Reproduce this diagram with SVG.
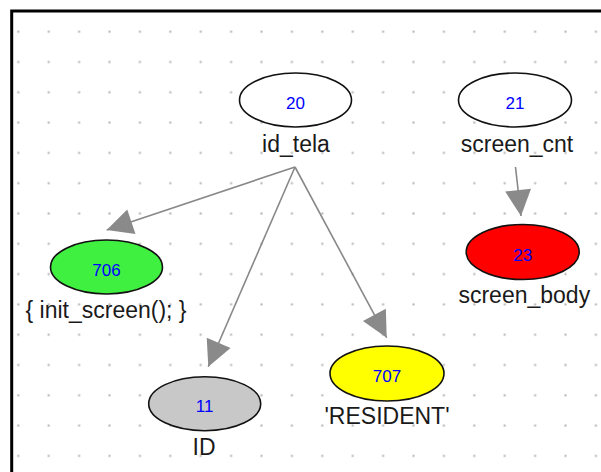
<svg xmlns="http://www.w3.org/2000/svg" width="601" height="472" viewBox="0 0 601 472">
<defs>
<pattern id="grid" patternUnits="userSpaceOnUse" x="3.1" y="16.55" width="30.4" height="30.3">
<rect x="14.2" y="14.15" width="2" height="2" fill="#b0b0b0"/>
</pattern>
<marker id="arr" markerUnits="userSpaceOnUse" markerWidth="30" markerHeight="30" viewBox="-28 -15 30 30" refX="0" refY="0" orient="auto">
<path d="M0,0 L-26,-13 L-26,13 Z" fill="#8a8a8a"/>
</marker>
</defs>
<style>
.node{stroke:#111;stroke-width:1.6}
.num{font-family:"Liberation Sans",Arial,sans-serif;font-size:17px;fill:#0000ff;text-anchor:middle}
.lbl{font-family:"Liberation Sans",Arial,sans-serif;font-size:23px;fill:#1a1a1a;text-anchor:middle}
.edge{stroke:#888;stroke-width:1.6;fill:none;marker-end:url(#arr)}
</style>
<rect width="601" height="472" fill="#fff"/>
<rect x="13" y="13" width="588" height="459" fill="url(#grid)"/>
<path d="M11.7,472 V11 H601" fill="none" stroke="#000" stroke-width="3"/>
<g id="connectors">
<line class="edge" x1="295" y1="167" x2="106.7" y2="230"/>
<line class="edge" x1="295" y1="167" x2="208.3" y2="366.7"/>
<line class="edge" x1="295" y1="167" x2="386.7" y2="337.7"/>
<line class="edge" x1="515.5" y1="167" x2="521" y2="216"/>
</g>
<g id="n20">
<ellipse class="node" cx="295.5" cy="100" rx="56" ry="27" fill="#fff"/>
<text class="num" x="295.5" y="108.5">20</text>
<text class="lbl" x="296" y="152">id_tela</text>
</g>
<g id="n21">
<ellipse class="node" cx="515" cy="100" rx="56.5" ry="27" fill="#fff"/>
<text class="num" x="515" y="108.5">21</text>
<text class="lbl" x="517" y="152">screen_cnt</text>
</g>
<g id="n706">
<ellipse class="node" cx="106.5" cy="267" rx="56" ry="27" fill="#40f040"/>
<text class="num" x="106.5" y="275.5">706</text>
<text class="lbl" x="106" y="318">{ init_screen(); }</text>
</g>
<g id="n23">
<ellipse class="node" cx="522.7" cy="252" rx="56.5" ry="27.5" fill="#ff0000"/>
<text class="num" x="522.7" y="260.5">23</text>
<text class="lbl" x="524.3" y="303">screen_body</text>
</g>
<g id="n11">
<ellipse class="node" cx="204.7" cy="403.7" rx="56" ry="27" fill="#c8c8c8"/>
<text class="num" x="204.7" y="412">11</text>
<text class="lbl" x="204" y="455">ID</text>
</g>
<g id="n707">
<ellipse class="node" cx="387" cy="373.5" rx="57" ry="27.5" fill="#ffff00"/>
<text class="num" x="387" y="382">707</text>
<text class="lbl" x="387" y="424">'RESIDENT'</text>
</g>
</svg>
